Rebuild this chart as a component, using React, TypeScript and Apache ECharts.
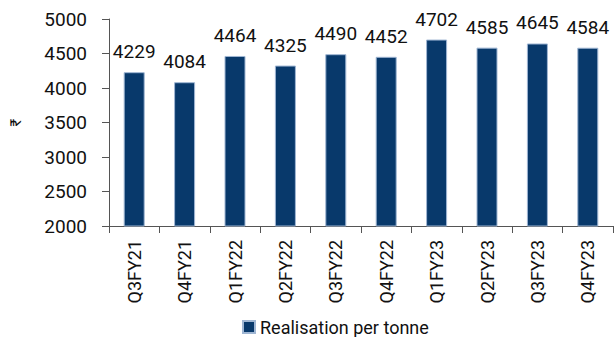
import React, { useEffect, useRef } from "react";
import * as echarts from "echarts";

const categories = ["Q3FY21", "Q4FY21", "Q1FY22", "Q2FY22", "Q3FY22", "Q4FY22", "Q1FY23", "Q2FY23", "Q3FY23", "Q4FY23"];
const realisation = [4229, 4084, 4464, 4325, 4490, 4452, 4702, 4585, 4645, 4584];
const seriesName = "Realisation per tonne";
const yAxisName = "₹";

const FONT = "'Liberation Sans Narrow', 'Arial Narrow', Roboto, sans-serif";

export default function App() {
  const ref = useRef<HTMLDivElement>(null);
  useEffect(() => {
    if (!ref.current) return;
    const chart = echarts.init(ref.current, null, { renderer: "svg" });
    chart.setOption({
      animation: false,
      textStyle: { fontFamily: FONT },
      grid: { left: 105, right: 3, top: 19, bottom: 111, containLabel: false },
      legend: {
        data: [seriesName],
        left: 237,
        top: 313,
        itemWidth: 12,
        itemHeight: 12,
        itemGap: 4,
        icon: "rect",
        textStyle: { fontFamily: FONT, fontSize: 18, color: "#111", padding: [0, 0, 0, 0] },
      },
      xAxis: {
        type: "category",
        data: categories,
        axisLine: { lineStyle: { color: "#555", width: 1 } },
        axisTick: { show: true, length: 7, lineStyle: { color: "#555" } },
        axisLabel: { rotate: 90, fontSize: 18, color: "#111", margin: 14, fontFamily: FONT },
      },
      yAxis: {
        type: "value",
        min: 2000,
        max: 5000,
        interval: 500,
        name: yAxisName,
        nameLocation: "middle",
        nameRotate: 90,
        nameGap: 86,
        nameTextStyle: { fontSize: 15, color: "#111", fontFamily: FONT },
        splitLine: { show: false },
        axisLine: { show: true, lineStyle: { color: "#555", width: 1 } },
        axisTick: { show: true, length: 7, lineStyle: { color: "#555" } },
        axisLabel: { fontSize: 19, color: "#111", margin: 22, fontFamily: FONT, formatter: (v: number) => String(v) },
      },
      series: [
        {
          name: seriesName,
          type: "bar",
          data: realisation,
          barWidth: 21,
          itemStyle: { color: "#08396b", borderColor: "#9fb6d3", borderWidth: 1 },
          label: { show: true, position: "top", distance: 11, fontSize: 19, color: "#111", fontFamily: FONT },
        },
      ],
    });
    return () => chart.dispose();
  }, []);
  return <div ref={ref} style={{ width: 616, height: 337, position: "absolute", left: 0, top: 0 }} />;
}
